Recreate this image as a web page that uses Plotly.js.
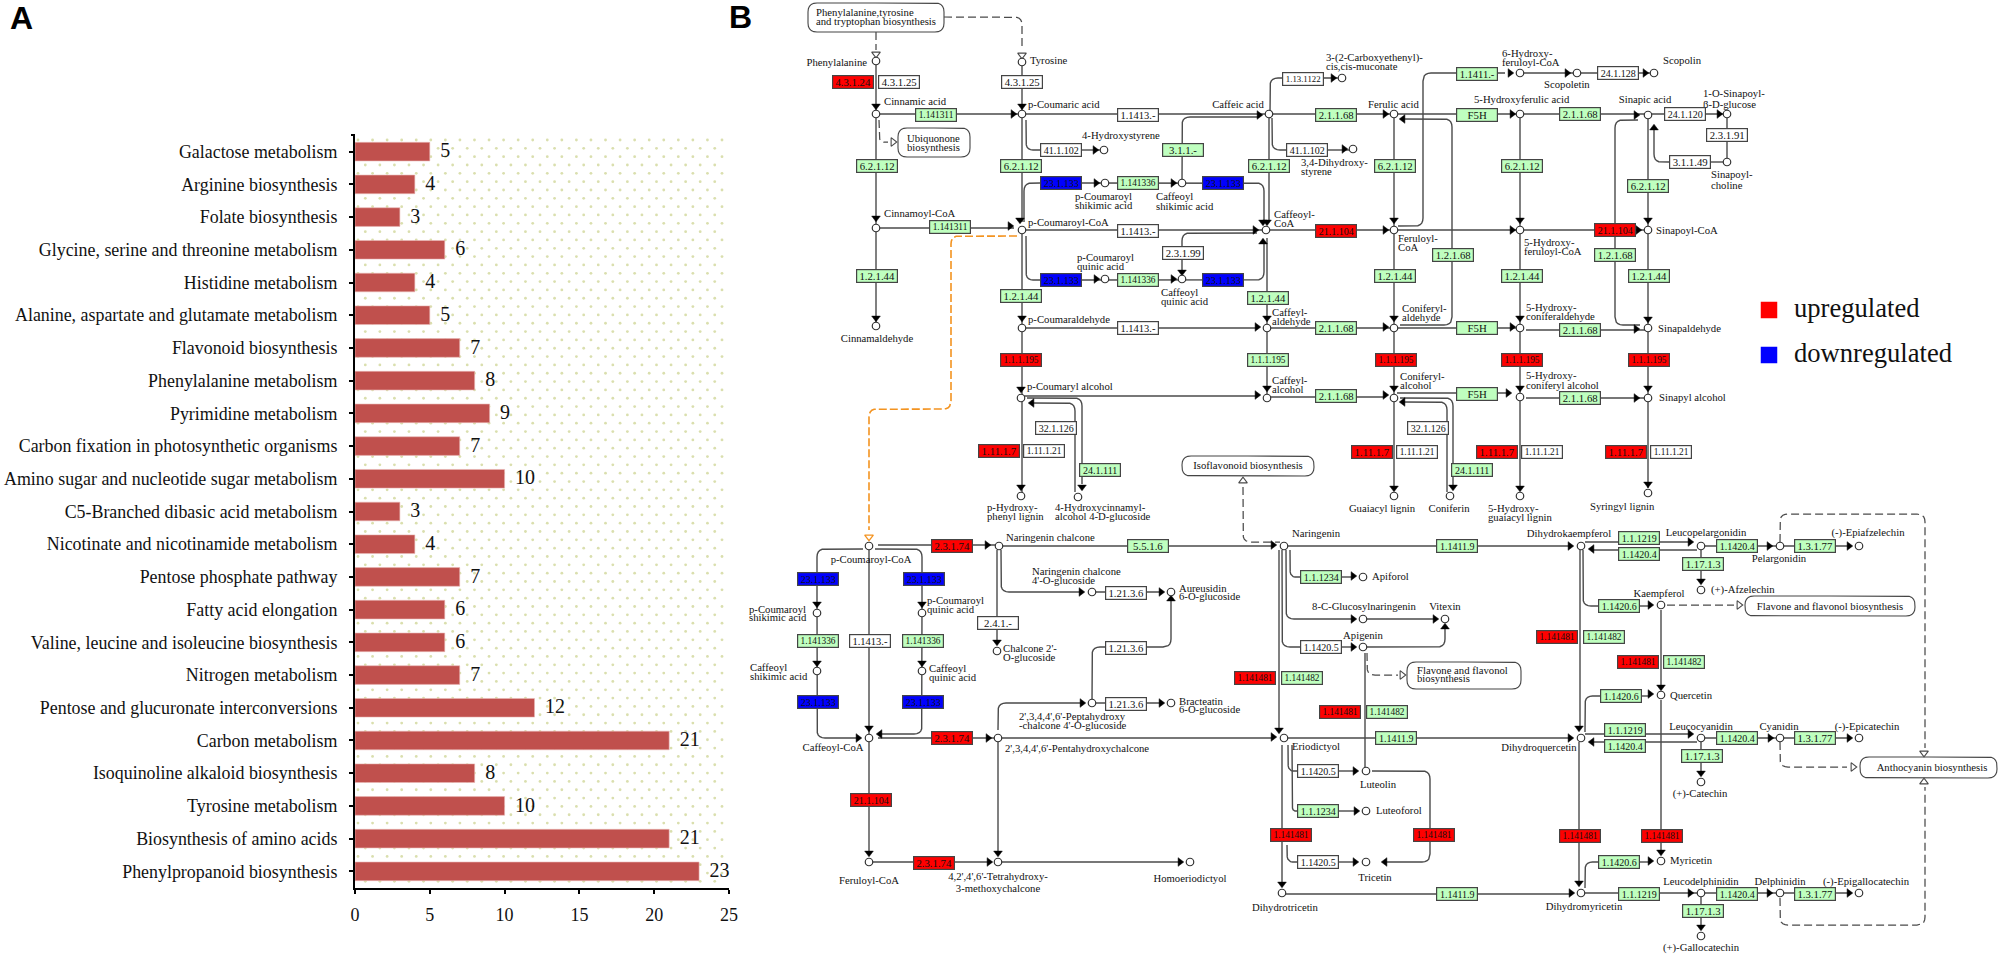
<!DOCTYPE html>
<html><head><meta charset="utf-8">
<script src="https://cdn.plot.ly/plotly-3.0.1.min.js"></script>
<style>html,body{margin:0;padding:0;background:#fff}#chart{width:2000px;height:956px}</style>
</head><body><div id="chart"></div>
<script>
// ---------- Panel A data ----------
const categories = ["Galactose metabolism","Arginine biosynthesis","Folate biosynthesis","Glycine, serine and threonine metabolism","Histidine metabolism","Alanine, aspartate and glutamate metabolism","Flavonoid biosynthesis","Phenylalanine metabolism","Pyrimidine metabolism","Carbon fixation in photosynthetic organisms","Amino sugar and nucleotide sugar metabolism","C5-Branched dibasic acid metabolism","Nicotinate and nicotinamide metabolism","Pentose phosphate pathway","Fatty acid elongation","Valine, leucine and isoleucine biosynthesis","Nitrogen metabolism","Pentose and glucuronate interconversions","Carbon metabolism","Isoquinoline alkaloid biosynthesis","Tyrosine metabolism","Biosynthesis of amino acids","Phenylpropanoid biosynthesis"];
const geneCounts = [5,4,3,6,4,5,7,8,9,7,10,3,4,7,6,6,7,12,21,8,10,21,23];
const xTicks = [0,5,10,15,20,25];

// ---------- Panel B data: the pathway map, in map coordinates ----------
const upEnzymes = [["4.3.1.24",853,82],["21.1.104",1336,231],["21.1.104",1615,230],["1.1.1.195",1021,360],["1.1.1.195",1396,360],["1.1.1.195",1522,360],["1.1.1.195",1649,360],["1.11.1.7",999,451],["1.11.1.7",1372,452],["1.11.1.7",1497,452],["1.11.1.7",1626,452],["2.3.1.74",952,546],["2.3.1.74",952,738],["2.3.1.74",934,863],["21.1.104",871,800],["1.141481",1255,678],["1.141481",1340,712],["1.141481",1557,637],["1.141481",1638,662],["1.141481",1580,836],["1.141481",1662,836],["1.141481",1291,835],["1.141481",1434,835]];
const downEnzymes = [["23.1.133",1061,183],["23.1.133",1223,183],["23.1.133",1061,280],["23.1.133",1223,280],["23.1.133",818,579],["23.1.133",924,579],["23.1.133",818,702],["23.1.133",923,702]];
const presentEnzymes = [["1.141311",936,115],["1.141311",950,227],["6.2.1.12",877,166],["6.2.1.12",1021,166],["6.2.1.12",1269,166],["6.2.1.12",1395,166],["6.2.1.12",1522,166],["6.2.1.12",1648,186],["1.2.1.44",877,276],["1.2.1.44",1021,296],["1.2.1.44",1268,298],["1.2.1.44",1395,276],["1.2.1.44",1522,276],["1.2.1.44",1649,276],["3.1.1.-",1183,150],["1.141336",1138,183],["1.141336",1138,280],["1.141336",818,641],["1.141336",923,641],["2.1.1.68",1336,115],["2.1.1.68",1336,328],["2.1.1.68",1336,396],["2.1.1.68",1580,114],["2.1.1.68",1580,330],["2.1.1.68",1580,398],["1.1411.-",1477,74],["F5H",1477,115],["F5H",1477,328],["F5H",1477,394],["1.2.1.68",1453,255],["1.2.1.68",1615,255],["1.1.1.195",1268,360],["24.1.111",1100,470],["24.1.111",1472,470],["5.5.1.6",1148,546],["1.1411.9",1457,546],["1.1411.9",1396,738],["1.1411.9",1457,894],["1.1.1234",1321,577],["1.1.1234",1318,811],["1.141482",1302,678],["1.141482",1387,712],["1.141482",1604,637],["1.141482",1684,662],["1.1.1219",1639,538],["1.1.1219",1625,730],["1.1.1219",1639,894],["1.1420.4",1639,554],["1.1420.4",1625,746],["1.1420.4",1737,546],["1.1420.4",1737,738],["1.1420.4",1737,894],["1.1420.6",1619,606],["1.1420.6",1621,696],["1.1420.6",1619,862],["1.3.1.77",1815,546],["1.3.1.77",1815,738],["1.3.1.77",1815,894],["1.17.1.3",1703,564],["1.17.1.3",1702,756],["1.17.1.3",1703,911]];
const otherEnzymes = [["4.3.1.25",899,82],["4.3.1.25",1022,82],["41.1.102",1061,150],["41.1.102",1307,150],["1.1413.-",1138,115],["1.1413.-",1138,231],["1.1413.-",1138,328],["1.1413.-",870,641],["1.13.1122",1303,79],["2.3.1.99",1183,253],["32.1.126",1056,428],["32.1.126",1428,428],["1.11.1.21",1044,451],["1.11.1.21",1417,452],["1.11.1.21",1542,452],["1.11.1.21",1671,452],["2.4.1.-",998,623],["1.21.3.6",1126,593],["1.21.3.6",1126,648],["1.21.3.6",1126,704],["1.1420.5",1321,647],["1.1420.5",1318,771],["1.1420.5",1318,862],["24.1.128",1618,73],["24.1.120",1685,114],["2.3.1.91",1727,135],["3.1.1.49",1690,162]];
const compounds = [[876,61],[1022,62],[876,114],[1022,114],[876,228],[1022,230],[876,326],[1269,114],[1394,114],[1520,114],[1648,115],[1727,114],[1727,162],[1342,78],[1104,150],[1353,149],[1105,183],[1182,183],[1105,279],[1182,279],[1266,230],[1394,230],[1520,230],[1648,230],[1520,73],[1577,73],[1654,73],[1022,328],[1267,328],[1394,328],[1520,328],[1648,328],[1021,398],[1267,398],[1394,398],[1520,397],[1648,398],[1021,496],[1078,497],[1394,496],[1450,496],[1520,496],[1648,493],[869,546],[999,546],[1284,546],[1581,546],[817,613],[922,613],[817,671],[922,671],[869,738],[998,738],[1284,738],[1581,738],[1092,592],[1171,592],[1092,703],[1171,703],[997,651],[1363,577],[1363,619],[1445,619],[1363,647],[1366,771],[1366,811],[1366,862],[1282,893],[1581,893],[869,862],[998,862],[1190,862],[1701,546],[1780,546],[1859,546],[1701,590],[1661,605],[1661,695],[1701,738],[1780,738],[1859,738],[1701,782],[1661,861],[1701,893],[1780,893],[1859,893],[1701,936]];
const labelsLeft = [["Cinnamic acid",884,102],["Tyrosine",1030,61],["Cinnamoyl-CoA",884,214],["p-Coumaric acid",1028,105],["p-Coumaroyl-CoA",1028,223],["p-Coumaraldehyde",1028,320],["p-Coumaryl alcohol",1027,387],["Phenylalanine,tyrosine",816,13],["and tryptophan biosynthesis",816,22],["Ubiquonone",907,139],["biosynthesis",907,148],["4-Hydroxystyrene",1082,136],["p-Coumaroyl",1075,197],["shikimic acid",1075,206],["Caffeoyl",1156,197],["shikimic acid",1156,207],["3-(2-Carboxyethenyl)-",1326,58],["cis,cis-muconate",1326,67],["3,4-Dihydroxy-",1301,163],["styrene",1301,172],["Caffeoyl-",1274,215],["CoA",1274,224],["Ferulic acid",1368,105],["5-Hydroxyferulic acid",1474,100],["Feruloyl-",1398,239],["CoA",1398,248],["6-Hydroxy-",1502,54],["feruloyl-CoA",1502,63],["Scopoletin",1544,85],["Scopolin",1663,61],["5-Hydroxy-",1524,243],["feruloyl-CoA",1524,252],["Sinapoyl-CoA",1656,231],["1-O-Sinapoyl-",1703,94],["β-D-glucose",1703,105],["Sinapoyl-",1711,175],["choline",1711,186],["Sinapaldehyde",1658,329],["Sinapyl alcohol",1659,398],["p-Coumaroyl",1077,258],["quinic acid",1077,267],["Caffeoyl",1161,293],["quinic acid",1161,302],["Caffeyl-",1272,313],["aldehyde",1272,322],["Caffeyl-",1272,381],["alcohol",1272,390],["Coniferyl-",1402,309],["aldehyde",1402,318],["Coniferyl-",1400,377],["alcohol",1400,386],["5-Hydroxy-",1526,308],["coniferaldehyde",1526,317],["5-Hydroxy-",1526,376],["coniferyl alcohol",1526,386],["p-Hydroxy-",987,508],["phenyl lignin",987,517],["4-Hydroxycinnamyl-",1055,508],["alcohol 4-D-glucoside",1055,517],["5-Hydroxy-",1488,509],["guaiacyl lignin",1488,518],["Naringenin chalcone",1006,538],["Naringenin chalcone",1032,572],["4'-O-glucoside",1032,581],["Aureusidin",1179,589],["6-O-glucoside",1179,597],["Chalcone 2'-",1003,649],["O-glucoside",1003,658],["2',3,4,4',6'-Peptahydroxy",1019,717],["-chalcone 4'-O-glucoside",1019,726],["Bracteatin",1179,702],["6-O-glucoside",1179,710],["2',3,4,4',6'-Pentahydroxychalcone",1005,749],["Naringenin",1292,534],["Apiforol",1372,577],["Eriodictyol",1292,747],["Luteoforol",1376,811],["p-Coumaroyl",927,601],["quinic acid",927,610],["Caffeoyl",929,669],["quinic acid",929,678],["p-Coumaroyl",749,610],["shikimic acid",749,618],["Caffeoyl",750,668],["shikimic acid",750,677],["Flavone and flavonol",1417,671],["biosynthesis",1417,679],["(+)-Afzelechin",1711,590],["Quercetin",1670,696],["Myricetin",1670,861],["Syringyl lignin",1590,507]];
const labelsCenter = [["Sinapic acid",1645,100],["Caffeic acid",1238,105],["Cinnamaldehyde",877,339],["Guaiacyl lignin",1382,509],["Coniferin",1449,509],["Isoflavonoid biosynthesis",1248,466],["p-Coumaroyl-CoA",871,560],["Caffeoyl-CoA",833,748],["Feruloyl-CoA",869,881],["4,2',4',6'-Tetrahydroxy-",998,877],["3-methoxychalcone",998,889],["Homoeriodictyol",1190,879],["8-C-Glucosylnaringenin",1364,607],["Vitexin",1445,607],["Apigenin",1363,636],["Luteolin",1378,785],["Tricetin",1375,878],["Dihydrotricetin",1285,908],["Dihydrokaempferol",1569,534],["Dihydroquercetin",1539,748],["Dihydromyricetin",1584,907],["Leucopelargonidin",1706,533],["Pelargonidin",1779,559],["(-)-Epiafzelechin",1868,533],["Kaempferol",1659,594],["Flavone and flavonol biosynthesis",1830,607],["Leucocyanidin",1701,727],["Cyanidin",1779,727],["(-)-Epicatechin",1867,727],["(+)-Catechin",1700,794],["Anthocyanin biosynthesis",1932,768],["Leucodelphinidin",1701,882],["Delphinidin",1780,882],["(-)-Epigallocatechin",1866,882],["(+)-Gallocatechin",1701,948]];
const labelsRight = [["Phenylalanine",867,63]];
const solidEdges = [[876,61,876,326],[876,114,1022,114],[1022,62,1022,222],[876,228,1014,228],[1026,120,1026,150,1040,150],[1082,150,1100,150],[1040,183,1024,183,1024,222],[1082,183,1264,183,1264,222],[1182,183,1182,117,1259,117],[1022,114,1648,114],[1648,114,1727,114],[1270,114,1270,78,1342,78],[1272,118,1272,150,1290,150],[1328,150,1353,150],[1269,114,1269,222],[1022,230,1648,230],[1026,236,1026,280,1040,280],[1082,280,1264,280,1264,244],[1257,233,1182,233,1182,270],[1022,230,1022,496],[1267,238,1267,398],[1022,328,1257,328],[1267,328,1520,328],[1526,330,1648,330],[1394,114,1394,490],[1520,114,1520,490],[1648,114,1648,488],[1022,396,1257,396],[1267,397,1385,397],[1397,393,1510,393],[1526,398,1648,398],[1400,398,1453,398,1453,485],[1403,402,1447,402,1447,492],[1027,398,1082,398,1082,484],[1032,403,1075,403,1075,492],[1403,119,1452,119,1452,325,1400,325],[1398,226,1423,226,1423,73,1505,73],[1520,73,1654,73],[1638,120,1615,120,1615,325,1640,325],[1727,114,1727,162],[1669,162,1654,162,1654,128],[1727,162,1711,162],[869,546,869,738],[878,545,998,545],[875,549,922,549,922,604],[863,549,817,549,817,604],[817,604,817,738,858,738],[922,604,922,734,880,734],[878,738,998,738],[869,738,869,853],[869,862,989,862],[998,738,998,853],[1000,862,1180,862],[997,550,997,642],[1001,550,1001,592,1081,592],[1092,592,1161,592],[998,546,1273,546],[1284,546,1570,546],[998,730,998,703,1082,703],[1092,703,1161,703],[1092,703,1092,647,1171,647,1171,601],[1279,550,1279,730],[1286,550,1286,619,1353,619],[1290,550,1290,577,1300,577],[1282,550,1282,647,1300,647],[1342,577,1353,577],[1342,647,1353,647],[1363,619,1435,619],[1363,647,1445,647,1445,628],[998,738,1273,738],[1284,738,1570,738],[1365,653,1365,771],[1282,745,1282,883],[1288,745,1288,771,1298,771],[1292,745,1292,811,1298,811],[1287,845,1287,862,1298,862],[1338,771,1355,771],[1338,811,1356,811],[1338,862,1355,862],[1372,771,1430,771,1430,862,1385,862],[1285,894,1571,894],[1581,893,1849,893],[1585,542,1690,542],[1697,550,1592,550],[1701,546,1849,546],[1701,546,1701,581],[1583,550,1583,606,1600,606],[1640,606,1650,606],[1580,550,1580,728],[1661,610,1661,687],[1585,732,1585,696,1600,696],[1640,696,1650,696],[1585,734,1690,734],[1697,742,1592,742],[1701,738,1849,738],[1701,738,1701,773],[1661,700,1661,852],[1579,742,1579,883],[1585,888,1585,862,1600,862],[1640,862,1650,862],[1701,893,1701,927]];
const mapBoxes = [[808,3,944,32],[898,128,970,157],[1182,456,1314,476],[1407,662,1521,689],[1745,596,1915,616],[1860,757,1997,778]];
const dashedEdges = [[876,32,876,50],[944,17,1022,17,1022,50],[879,120,879,142,888,142],[1243,487,1243,542,1280,542],[1367,653,1367,675,1398,675],[1667,605,1734,605],[1780,742,1780,767,1847,767],[1780,898,1780,925,1925,925,1925,787],[1780,542,1780,514,1925,514,1925,748]];
const orangeEdges = [[1017,236,951,236,951,409,869,409,869,530]];
const arrowsRight = [[1013,114],[1010,226],[1095,150],[1096,183],[1173,183],[1096,279],[1173,279],[1259,115],[1333,78],[1344,149],[1385,114],[1512,114],[1510,73],[1567,73],[1645,73],[1636,115],[1719,114],[1255,230],[1385,230],[1512,230],[1638,230],[1257,327],[1385,327],[1512,327],[1636,329],[1257,395],[1385,395],[1508,393],[1636,398],[987,545],[1273,545],[1570,546],[1081,592],[1161,592],[1161,703],[1082,703],[1353,576],[1353,619],[1435,619],[1353,647],[858,738],[988,738],[1273,737],[1570,738],[1355,771],[1356,811],[1355,862],[989,862],[1180,862],[1571,893],[1690,542],[1769,546],[1849,546],[1650,605],[1650,694],[1690,734],[1770,738],[1849,738],[1650,861],[1690,893],[1769,893],[1849,893]];
const arrowsLeft = [[1403,119],[1032,403],[1403,402],[880,734],[1592,549],[1592,742],[1385,862]];
const arrowsUp = [[1263,242],[1171,599],[1445,627],[1654,128]];
const arrowsDown = [[876,106],[876,218],[876,318],[1022,106],[1020,220],[1022,318],[1021,389],[1021,487],[1082,487],[1263,222],[1267,222],[1267,318],[1267,388],[1394,220],[1394,318],[1394,388],[1394,488],[1453,487],[1520,220],[1520,318],[1520,388],[1520,488],[1648,220],[1648,319],[1648,388],[1648,484],[1182,272],[817,604],[922,604],[817,663],[922,663],[869,728],[997,642],[1279,730],[1579,728],[1579,883],[1661,687],[1661,852],[1701,581],[1701,773],[1701,927],[869,853],[998,853],[1282,884]];
const hollowDown = [[876,54],[1022,55],[1924,753]];
const hollowUp = [[1243,481],[1924,782]];
const hollowRight = [[893,142],[1402,675],[1739,605],[1853,767]];
const legendItems = [["upregulated","#ff0000",1769,310],["downregulated","#0000ff",1769,355]];
const panelLetters = [["A",10,21],["B",729,20]];

// ---------- helpers ----------
const SERIF = "Liberation Serif, Times New Roman, serif";
const SANS = "Liberation Sans, Arial, sans-serif";
function rounded(flat, r) {
  const xs = [], ys = [], n = flat.length / 2;
  for (let i = 0; i < n; i++) {
    const x = flat[2*i], y = flat[2*i+1];
    if (i === 0 || i === n-1) { xs.push(x); ys.push(y); continue; }
    const ax = flat[2*i-2], ay = flat[2*i-1], bx = flat[2*i+2], by = flat[2*i+3];
    const la = Math.hypot(ax-x, ay-y), lb = Math.hypot(bx-x, by-y);
    const ra = Math.min(r, la/2), rb = Math.min(r, lb/2);
    const sx = x+(ax-x)*ra/la, sy = y+(ay-y)*ra/la, ex = x+(bx-x)*rb/lb, ey = y+(by-y)*rb/lb;
    for (let k = 0; k <= 5; k++) {
      const t = k/5, u = 1-t;
      xs.push(u*u*sx+2*u*t*x+t*t*ex); ys.push(u*u*sy+2*u*t*y+t*t*ey);
    }
  }
  return [xs, ys];
}
function edgeTrace(edges, r, line) {
  const x = [], y = [];
  edges.forEach(e => { const [a,b] = rounded(e, r); x.push(...a, null); y.push(...b, null); });
  return {type:"scatter", mode:"lines", x, y, line, hoverinfo:"skip", showlegend:false, connectgaps:false};
}
function boxEdges(b) {
  const [x0,y0,x1,y1] = b;
  return [ (x0+x1)/2,y0, x1,y0, x1,y1, x0,y1, x0,y0, (x0+x1)/2,y0 ];
}
function markerTrace(points, symbol, size, color, lineColor, lineWidth) {
  return {type:"scatter", mode:"markers", x:points.map(p=>p[0]), y:points.map(p=>p[1]),
    marker:{symbol, size, color, line:{color:lineColor, width:lineWidth}}, hoverinfo:"skip", showlegend:false};
}
function textTrace(items, position, size, family) {
  return {type:"scatter", mode:"text", x:items.map(p=>p[1]), y:items.map(p=>p[2]), text:items.map(p=>p[0]),
    textposition:position, textfont:{family:family||SERIF, size, color:"#111"}, hoverinfo:"skip", showlegend:false, cliponaxis:false};
}
function labelEm(s) { let e = 0; for (const c of s) e += (c === "." ? 0.25 : c === "-" ? 0.33 : c === "F" ? 0.56 : c === "H" ? 0.72 : 0.5); return e; }
function enzymeBoxes(list, bg) {
  return list.map(e => ({xref:"x", yref:"y", x:e[1], y:e[2], text:e[0], showarrow:false,
    xanchor:"center", yanchor:"middle", width:40, height:12, borderpad:0, borderwidth:1.2, bordercolor:"#444",
    bgcolor:bg, font:{family:SERIF, size:Math.min(10.8, 35/labelEm(e[0])), color:"#111"}}));
}

// background dot texture of panel A
const dotX = [], dotY = [];
for (let row = 0; row < 90; row++) {
  const yp = 140 + row*8.33;
  if (yp > 886) break;
  for (let xp = 358 + (row % 2 ? 7.3 : 0); xp < 727; xp += 14.56) { dotX.push(xp); dotY.push(yp); }
}

// ---------- traces ----------
const LINE = "#4a4a4a";
const traces = [
  {type:"scatter", mode:"markers", x:dotX, y:dotY, marker:{size:2.8, color:"#dadfae"}, hoverinfo:"skip", showlegend:false},
  edgeTrace([[351,135,355,135]], 0, {color:"#000", width:2}),
  edgeTrace(solidEdges, 8, {color:LINE, width:1.4}),
  edgeTrace(mapBoxes.map(boxEdges), 9, {color:"#444", width:1.1}),
  edgeTrace(dashedEdges, 8, {color:LINE, width:1.25, dash:"8px,4px"}),
  edgeTrace(orangeEdges, 8, {color:"#f39320", width:1.6, dash:"8px,3px"}),
  markerTrace(arrowsRight, "triangle-right", 7.5, "#000", "#000", 0.5),
  markerTrace(arrowsLeft, "triangle-left", 7.5, "#000", "#000", 0.5),
  markerTrace(arrowsUp, "triangle-up", 7.5, "#000", "#000", 0.5),
  markerTrace(arrowsDown, "triangle-down", 7.5, "#000", "#000", 0.5),
  markerTrace(hollowDown, "triangle-down", 7.5, "#fff", LINE, 1.1),
  markerTrace(hollowUp, "triangle-up", 7.5, "#fff", LINE, 1.1),
  markerTrace(hollowRight, "triangle-right", 7.5, "#fff", LINE, 1.1),
  {type:"scatter", mode:"markers", x:[869], y:[537], marker:{symbol:"triangle-down", size:7.5, color:"#fff", line:{color:"#f39320", width:1.3}}, hoverinfo:"skip", showlegend:false},
  markerTrace(compounds, "circle", 7.5, "#fff", "#333", 1.2),
  textTrace(labelsLeft, "middle right", 10.7),
  textTrace(labelsCenter, "middle center", 10.7),
  textTrace(labelsRight, "middle left", 10.7),
  markerTrace(legendItems.map(l=>[l[2],l[3]]), "square", 16.5, legendItems.map(l=>l[1]), "rgba(0,0,0,0)", 0),
  textTrace(legendItems.map(l=>[l[0],1794,l[3]]), "middle right", 26.6),
  {type:"scatter", mode:"text", x:panelLetters.map(p=>p[1]), y:panelLetters.map(p=>p[2]), text:panelLetters.map(p=>"<b>"+p[0]+"</b>"),
    textposition:"middle right", textfont:{family:SANS, size:32, color:"#000"}, hoverinfo:"skip", showlegend:false, cliponaxis:false},
  // panel A
  {type:"bar", orientation:"h", x:geneCounts, y:categories.map((c,i)=>i), xaxis:"x2", yaxis:"y2", width:0.57,
    marker:{color:"#c0504d", line:{color:"#e9b7b5", width:0.6}}, hoverinfo:"skip", showlegend:false},
  {type:"scatter", mode:"text", x:geneCounts.map(v=>v+0.7), y:categories.map((c,i)=>i+0.02), text:geneCounts.map(String), xaxis:"x2", yaxis:"y2",
    textposition:"middle right", textfont:{family:SERIF, size:20, color:"#111"}, hoverinfo:"skip", showlegend:false, cliponaxis:false}
];

const annotations = [
  ...enzymeBoxes(presentEnzymes, "#bfffbf"),
  ...enzymeBoxes(otherEnzymes, "#ffffff"),
  ...enzymeBoxes(upEnzymes, "#ff0000"),
  ...enzymeBoxes(downEnzymes, "#0000ff")
];

const layout = {
  width:2000, height:956, margin:{l:0,r:0,t:0,b:0}, paper_bgcolor:"#fff", plot_bgcolor:"rgba(0,0,0,0)",
  showlegend:false, bargap:0.43, annotations,
  xaxis:{domain:[0,1], range:[0,2000], visible:false, fixedrange:true},
  yaxis:{domain:[0,1], range:[956,0], visible:false, fixedrange:true},
  xaxis2:{anchor:"y2", domain:[355/2000,729/2000], range:[0,25], tickvals:xTicks, ticks:"outside", ticklen:4, tickwidth:2, tickcolor:"#000",
    showline:true, linecolor:"#000", linewidth:2, showgrid:false, zeroline:false, ticklabelstandoff:6,
    tickfont:{family:SERIF, size:18, color:"#111"}, fixedrange:true},
  yaxis2:{anchor:"x2", domain:[(956-887.7)/956,(956-135.3)/956], range:[22.5,-0.5], tickmode:"array", tickvals:categories.map((c,i)=>i), ticktext:categories,
    ticks:"outside", ticklen:4, tickwidth:2, tickcolor:"#000", showline:true, linecolor:"#000", linewidth:2, showgrid:false, zeroline:false,
    ticklabelstandoff:8, tickfont:{family:SERIF, size:17.9, color:"#111"}, fixedrange:true}
};
Plotly.newPlot("chart", traces, layout, {displayModeBar:false, responsive:false});
</script></body></html>
